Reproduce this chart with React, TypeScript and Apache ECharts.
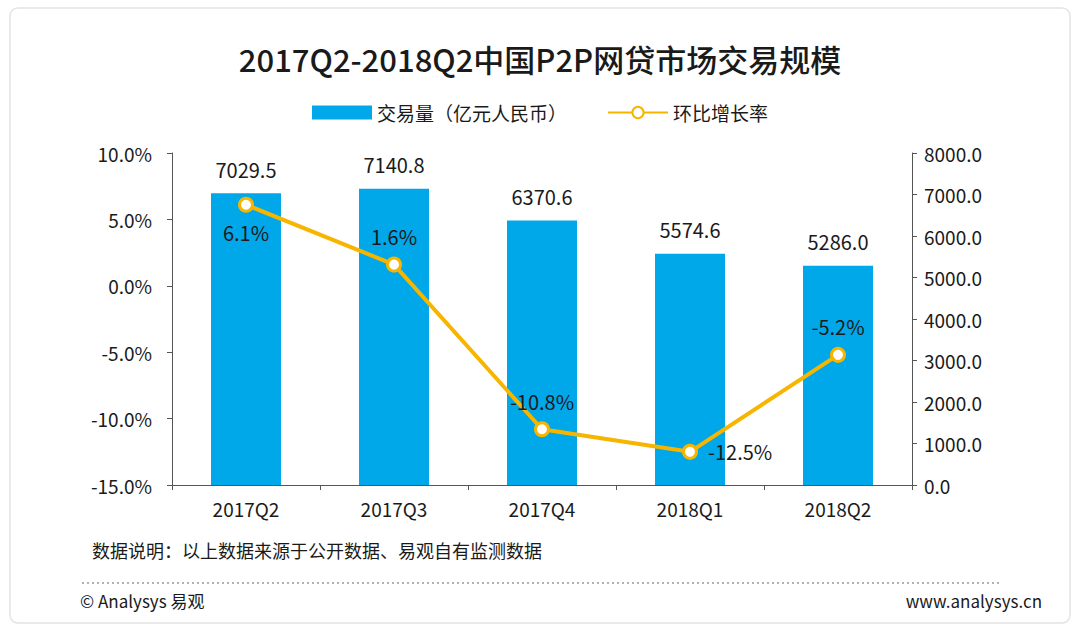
import React, { useEffect, useRef } from 'react';
import * as echarts from 'echarts';

const categories = ['2017Q2', '2017Q3', '2017Q4', '2018Q1', '2018Q2'];
const volume = [7029.5, 7140.8, 6370.6, 5574.6, 5286.0];
const growth = [6.1, 1.6, -10.8, -12.5, -5.2];
const growthLabelPos = ['bottom', 'top', 'top', 'right', 'top'];

const font = '"Noto Sans CJK SC", "Noto Sans", sans-serif';

const App: React.FC = () => {
  const chartRef = useRef<HTMLDivElement>(null);

  useEffect(() => {
    document.body.style.margin = '0';
    if (!chartRef.current) return;
    const chart = echarts.init(chartRef.current, undefined, { renderer: 'svg' });

    const option: echarts.EChartsOption = {
      animation: false,
      backgroundColor: '#fff',
      textStyle: { fontFamily: font },
      title: {
        text: '2017Q2-2018Q2中国P2P网贷市场交易规模',
        left: 'center',
        top: 38,
        textStyle: { fontSize: 31, fontWeight: 500, color: '#1a1a1a', fontFamily: font },
      },
      legend: {
        top: 98,
        left: 'center',
        itemGap: 40,
        textStyle: { fontSize: 19, color: '#1a1a1a' },
        data: [
          { name: '交易量（亿元人民币）', icon: 'rect', itemStyle: { color: '#00a7e9' } },
          { name: '环比增长率' },
        ],
        itemWidth: 60,
        itemHeight: 14,
      },
      grid: { left: 172, right: 168, top: 153, bottom: 146 },
      xAxis: {
        type: 'category',
        data: categories,
        axisLine: { onZero: false, lineStyle: { color: '#555' } },
        axisTick: { show: true, lineStyle: { color: '#555' } },
        axisLabel: { fontSize: 19, color: '#1a1a1a', margin: 14 },
      },
      yAxis: [
        {
          type: 'value',
          min: -15,
          max: 10,
          interval: 5,
          axisLine: { show: true, lineStyle: { color: '#555' } },
          axisTick: { show: true },
          splitLine: { show: false },
          axisLabel: { fontSize: 19, color: '#1a1a1a', formatter: (v: number) => v.toFixed(1) + '%', margin: 20 },
        },
        {
          type: 'value',
          min: 0,
          max: 8000,
          interval: 1000,
          axisLine: { show: true, lineStyle: { color: '#555' } },
          axisTick: { show: true },
          splitLine: { show: false },
          axisLabel: { fontSize: 19, color: '#1a1a1a', formatter: (v: number) => v.toFixed(1), margin: 12 },
        },
      ],
      series: [
        {
          name: '交易量（亿元人民币）',
          type: 'bar',
          yAxisIndex: 1,
          barWidth: 70,
          data: volume,
          itemStyle: { color: '#00a7e9' },
          label: {
            show: true,
            position: 'top',
            distance: 14,
            fontSize: 20,
            color: '#1a1a1a',
            formatter: (p: any) => Number(p.value).toFixed(1),
          },
        },
        {
          name: '环比增长率',
          type: 'line',
          yAxisIndex: 0,
          data: growth.map((v, i) => ({
            value: v,
            label: { position: growthLabelPos[i] as any },
          })),
          symbol: 'circle',
          symbolSize: 13,
          lineStyle: { color: '#f7b500', width: 4 },
          itemStyle: { color: '#fff', borderColor: '#f7b500', borderWidth: 3 },
          label: {
            show: true,
            fontSize: 20,
            color: '#1a1a1a',
            distance: 10,
            formatter: (p: any) => Number(p.value).toFixed(1) + '%',
          },
        },
      ],
      graphic: [
        {
          type: 'text',
          left: 92,
          top: 541,
          style: { text: '数据说明：以上数据来源于公开数据、易观自有监测数据', fontSize: 18, fill: '#1a1a1a', fontFamily: font },
        },
        {
          type: 'line',
          shape: { x1: 82, y1: 583, x2: 1000, y2: 583 },
          style: { stroke: '#999', lineWidth: 1.5, lineDash: [2, 3] },
        },
        {
          type: 'text',
          left: 80,
          top: 592,
          style: { text: '© Analysys 易观', fontSize: 17, fill: '#1a1a1a', fontFamily: font },
        },
        {
          type: 'text',
          right: 38,
          top: 592,
          style: { text: 'www.analysys.cn', fontSize: 17, fill: '#1a1a1a', fontFamily: font },
        },
        {
          type: 'rect',
          shape: { x: 10, y: 8, width: 1060, height: 615, r: 8 },
          style: { fill: 'none', stroke: '#e3e3e3', lineWidth: 1.5 },
          z: -1,
        },
      ],
    };

    chart.setOption(option);
    return () => chart.dispose();
  }, []);

  return <div ref={chartRef} style={{ width: 1080, height: 631 }} />;
};

export default App;
